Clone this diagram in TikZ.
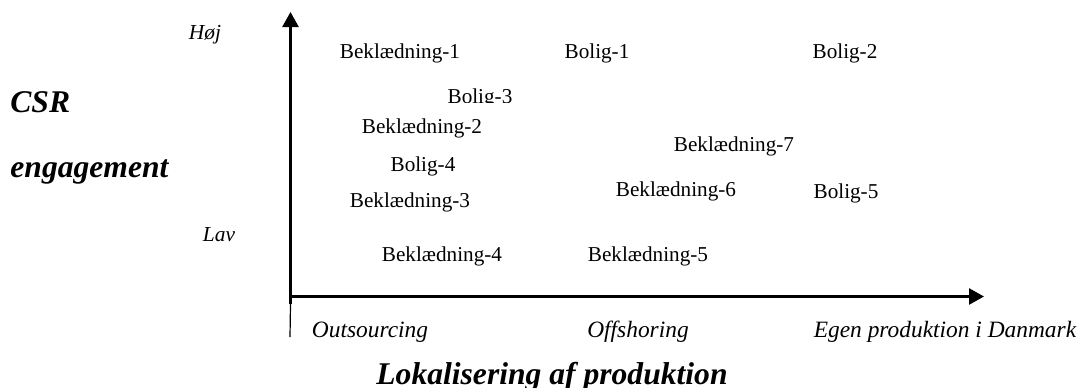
\documentclass[tikz,border=0pt]{standalone}
\usepackage{fontspec}
\setmainfont{Liberation Serif}
\usetikzlibrary{arrows.meta}
\tikzset{
  item/.style={inner sep=0pt, font=\fontsize{10.6}{12}\selectfont},
  tick/.style={inner sep=0pt, font=\fontsize{11.7}{13}\selectfont\itshape},
  level/.style={inner sep=0pt, font=\fontsize{10.7}{12}\selectfont\itshape},
  title/.style={inner sep=0pt, font=\fontsize{15.8}{18}\selectfont\bfseries\itshape},
  axis/.style={line width=1.3pt, -{Triangle[length=7.5pt,width=8pt]}},
}
\begin{document}
\begin{tikzpicture}[x=0.5pt,y=-0.5pt]
\useasboundingbox (0,0) rectangle (1082,387);
\clip (0,0) rectangle (1082,387);
% axes
\coordinate (o) at (290.5,296.5);
\coordinate (ytop) at (290.5,12);
\coordinate (xend) at (984,296.5);
\coordinate (ybot) at (290.5,304);
\coordinate (ylow) at (290,337);
\draw[axis] (ybot) -- (ytop);
\draw[axis] (o) -- (xend);
\draw[line width=0.6pt] (ybot) -- (ylow);
% level labels
\node[level] (hoj) at (205,35) {Høj};
\node[level] (lav) at (219,235) {Lav};
% axis titles
\node[title, anchor=west] (csr) at (10,102) {CSR};
\node[title, anchor=west] (eng) at (10,172) {engagement};
\node[title] (lok) at (552,377) {Lokalisering af produktion};
% x ticks
\node[tick] (out) at (370,332) {Outsourcing};
\node[tick] (off) at (638,332) {Offshoring};
\node[tick] (egen) at (945,332) {Egen produktion i Danmark};
% items
\node[item] (b1) at (400,53) {Beklædning-1};
\node[item] (bo1) at (597,53) {Bolig-1};
\node[item] (bo2) at (845,53) {Bolig-2};
\begin{scope}
\clip (420,80) rectangle (540,102);
\node[item] (bo3) at (480,98) {Bolig-3};
\end{scope}
\node[item] (b2) at (422,128) {Beklædning-2};
\node[item] (bo4) at (423,166) {Bolig-4};
\node[item] (b7) at (734,146) {Beklædning-7};
\node[item] (b6) at (676,191) {Beklædning-6};
\node[item] (bo5) at (846,193) {Bolig-5};
\node[item] (b3) at (410,202) {Beklædning-3};
\node[item] (b4) at (442,256) {Beklædning-4};
\node[item] (b5) at (648,256) {Beklædning-5};
\end{tikzpicture}
\end{document}
